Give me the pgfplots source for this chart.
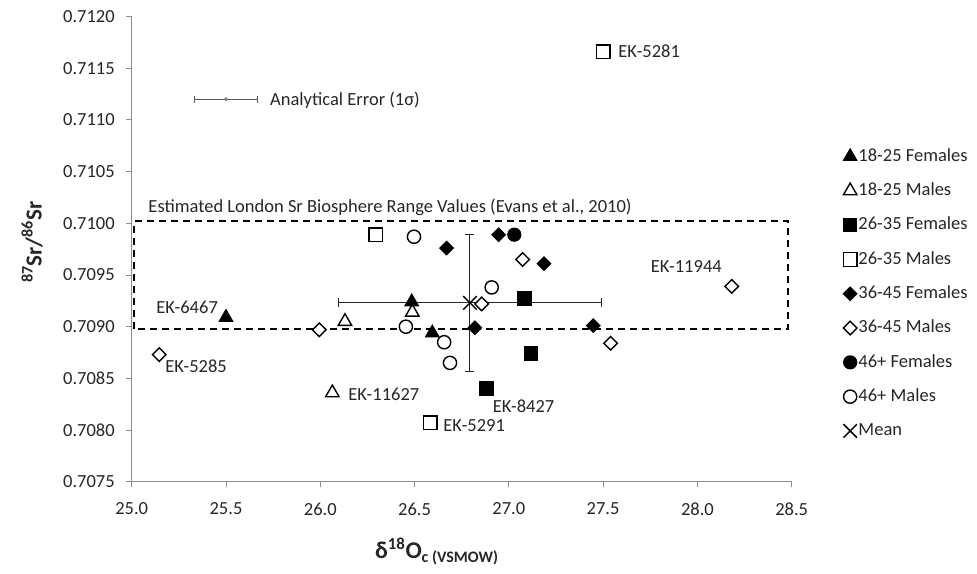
\documentclass[border=0pt]{standalone}
\usepackage{fontspec}
\setmainfont{Carlito}
\usepackage{pgfplots}
\pgfplotsset{compat=1.18}
\usetikzlibrary{arrows.meta}
\definecolor{axgray}{HTML}{8C8C8C}
\definecolor{txt}{HTML}{262626}
\pgfdeclareplotmark{rhomb}{%
  \pgfpathmoveto{\pgfqpoint{0pt}{\pgfplotmarksize}}%
  \pgfpathlineto{\pgfqpoint{\pgfplotmarksize}{0pt}}%
  \pgfpathlineto{\pgfqpoint{0pt}{-\pgfplotmarksize}}%
  \pgfpathlineto{\pgfqpoint{-\pgfplotmarksize}{0pt}}%
  \pgfpathclose\pgfusepathqfillstroke}
\begin{document}
\begin{tikzpicture}[font=\fontsize{18.5bp}{22bp}\selectfont]
\begin{axis}[
  scale only axis, width=660bp, height=465.3bp,
  xmin=25, xmax=28.5, ymin=0.7075, ymax=0.7120,
  xtick={25,25.5,26,26.5,27,27.5,28,28.5},
  ytick={0.7075,0.7080,0.7085,0.7090,0.7095,0.7100,0.7105,0.7110,0.7115,0.7120},
  scaled x ticks=false, scaled y ticks=false,
  /pgf/number format/assume math mode=true,
  xticklabel={\pgfmathprintnumber[fixed,fixed zerofill,precision=1]{\tick}},
  yticklabel={\pgfmathprintnumber[fixed,fixed zerofill,precision=4]{\tick}},
  tick label style={font=\fontsize{18.5bp}{22bp}\selectfont, text=txt},
  xticklabel style={yshift=-12bp},
  yticklabel style={xshift=-8bp},
  axis x line*=bottom, axis y line*=left,
  axis line style={axgray, line width=0.9bp, -},
  tick align=outside, major tick length=5.5bp,
  tick style={axgray, line width=0.9bp},
  clip=false,
  only marks,
  legend image code/.code={\draw[#1] plot coordinates {(0cm,0cm)};},
  legend cell align=left,
  legend style={draw=none, fill=none, inner sep=0pt,
    at={(axis description cs:1.078,0.7193)}, anchor=north west,
    row sep=15.8bp, font=\fontsize{18.5bp}{22bp}\selectfont,
    nodes={inner sep=1.5bp, text height=12.5bp, text depth=3bp, text=txt}},
  xlabel={\fontsize{24bp}{26bp}\selectfont\bfseries δ\textsuperscript{18}O\textsubscript{\fontsize{16bp}{18bp}\selectfont c (VSMOW)}},
  xlabel style={at={(axis description cs:0.3636,-0.1644)}, anchor=base west, text=txt},
  ylabel={\fontsize{23bp}{25bp}\selectfont\bfseries \textsuperscript{87}Sr/\textsuperscript{86}Sr},
  ylabel style={at={(axis description cs:-0.151,0.515)}, anchor=center, text=txt},
]
% error bars of the mean and of the analytical error
\addplot[forget plot, sharp plot, no markers, line width=1bp, txt, {Bar[width=9bp]}-{Bar[width=9bp]}]
  coordinates {(26.094,0.70923) (27.494,0.70923)};
\addplot[forget plot, sharp plot, no markers, line width=1bp, txt, {Bar[width=9bp]}-{Bar[width=9bp]}]
  coordinates {(26.794,0.70856) (26.794,0.70990)};
\addplot[forget plot, sharp plot, no markers, line width=0.9bp, black!65, {Bar[width=7bp]}-{Bar[width=7bp]}]
  coordinates {(25.333,0.7112) (25.667,0.7112)};
% 18-25 Females
\addplot[mark=triangle*, mark size=7.8bp, mark options={fill=black, draw=black, line width=1bp}]
  coordinates {(25.50,0.70909) (26.485,0.70924) (26.594,0.70894)};
\addlegendentry{18-25 Females}
% 18-25 Males
\addplot[mark=triangle*, mark size=7.8bp, mark options={fill=white, draw=black, line width=1.4bp}]
  coordinates {(26.131,0.70905) (26.488,0.70914) (26.064,0.70836)};
\addlegendentry{18-25 Males}
% 26-35 Females
\addplot[mark=square*, mark size=6.8bp, mark options={fill=black, draw=black, line width=1bp}]
  coordinates {(27.082,0.70927) (27.118,0.70874) (26.882,0.70840)};
\addlegendentry{26-35 Females}
% 26-35 Males
\addplot[mark=square*, mark size=6.8bp, mark options={fill=white, draw=black, line width=1.4bp}]
  coordinates {(26.295,0.70989) (26.582,0.70807) (27.50,0.71166)};
\addlegendentry{26-35 Males}
% 36-45 Females
\addplot[mark=rhomb, mark size=6.8bp, mark options={fill=black, draw=black, line width=1bp}]
  coordinates {(26.67,0.70976) (26.946,0.70989) (27.186,0.70961) (26.82,0.70899) (27.448,0.70901)};
\addlegendentry{36-45 Females}
% 36-45 Males
\addplot[mark=rhomb, mark size=6.8bp, mark options={fill=white, draw=black, line width=1.4bp}]
  coordinates {(25.146,0.70873) (25.995,0.70897) (27.073,0.70965) (26.856,0.70922) (27.54,0.70884) (28.182,0.70939)};
\addlegendentry{36-45 Males}
% 46+ Females
\addplot[mark=*, mark size=6.6bp, mark options={fill=black, draw=black, line width=1bp}]
  coordinates {(27.029,0.70989)};
\addlegendentry{46+ Females}
% 46+ Males
\addplot[mark=*, mark size=6.6bp, mark options={fill=white, draw=black, line width=1.4bp}]
  coordinates {(26.497,0.70987) (26.454,0.70900) (26.657,0.70885) (26.688,0.70865) (26.909,0.70938)};
\addlegendentry{46+ Males}
% Mean
\addplot[mark=x, mark size=9.5bp, mark options={draw=black, line width=1.5bp}]
  coordinates {(26.794,0.70923)};
\addlegendentry{Mean}
% Analytical error point
\addplot[forget plot, mark=*, mark size=1.8bp, mark options={fill=gray, draw=gray}]
  coordinates {(25.5,0.7112)};
% range box
\draw[black, line width=1.8bp, dash pattern=on 7bp off 5bp]
  (axis cs:25.014,0.70898) rectangle (axis cs:28.48,0.71002);
\path[text=txt, inner sep=0pt]
  (axis cs:25.458,0.709126) node[anchor=base east] {EK-6467}
  (axis cs:25.177,0.708555) node[anchor=base west] {EK-5285}
  (axis cs:26.148,0.708288) node[anchor=base west] {EK-11627}
  (axis cs:26.652,0.707991) node[anchor=base west] {EK-5291}
  (axis cs:26.914,0.708175) node[anchor=base west] {EK-8427}
  (axis cs:27.752,0.709522) node[anchor=base west] {EK-11944}
  (axis cs:27.58,0.711602) node[anchor=base west] {EK-5281}
  (axis cs:25.733,0.711141) node[anchor=base west] {Analytical Error (1σ)}
  (axis cs:25.088,0.710109) node[anchor=base west] {Estimated London Sr Biosphere Range Values (Evans et al., 2010)};
\end{axis}
\pgfresetboundingbox
\path[use as bounding box] (-131.7bp,-92.2bp) rectangle (845.3bp,481.8bp);
\end{tikzpicture}
\end{document}
